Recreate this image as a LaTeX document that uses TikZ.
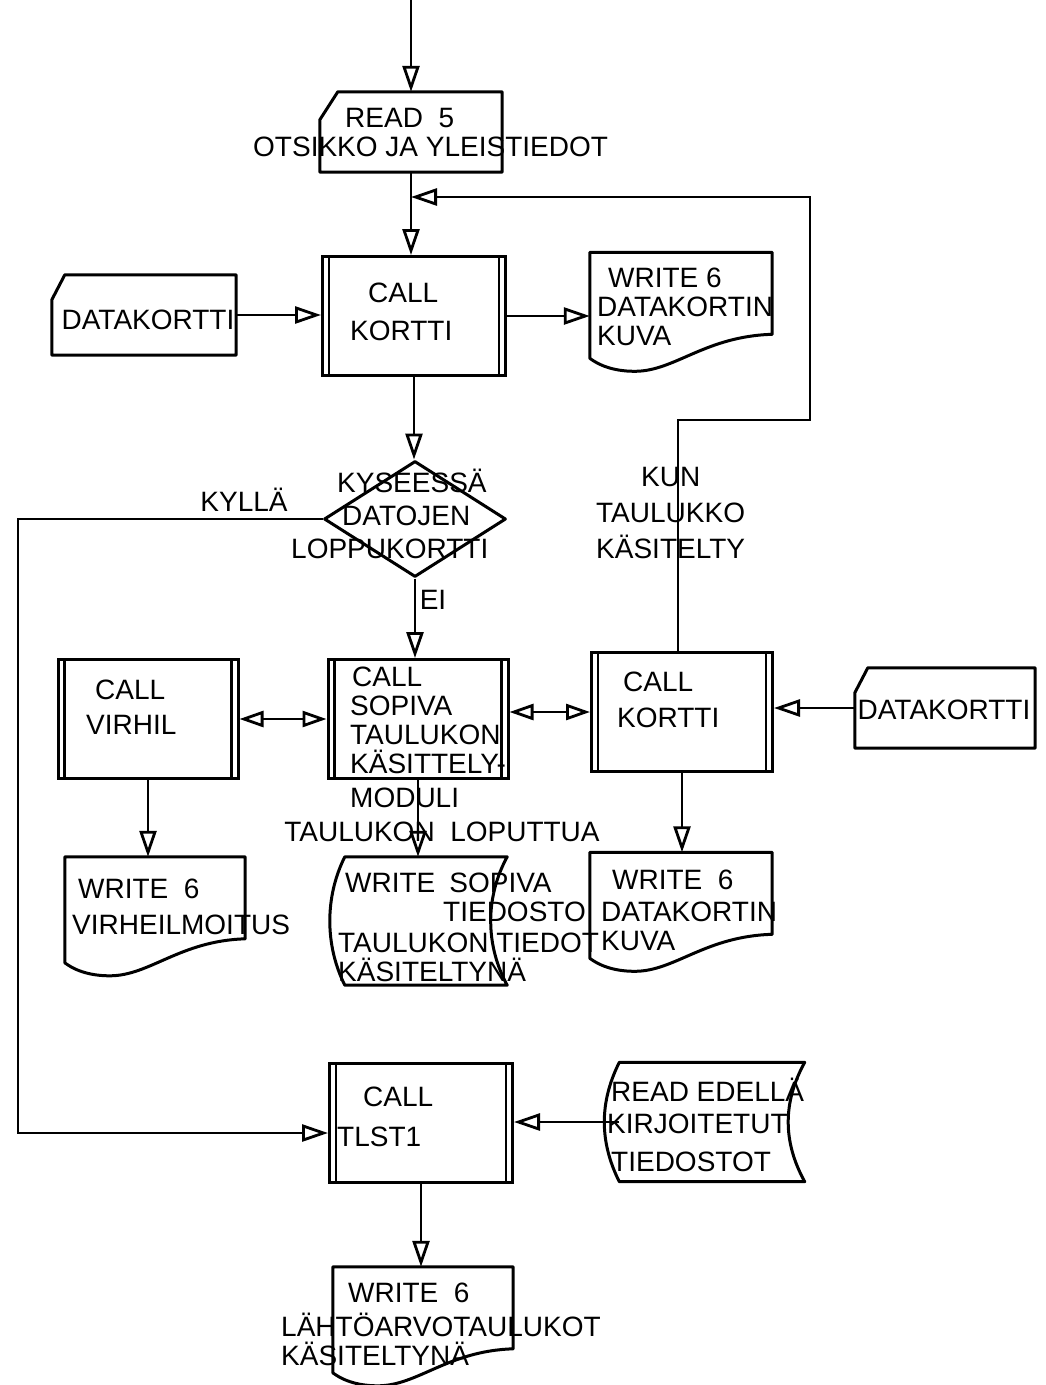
\documentclass[tikz,border=0pt]{standalone}
\usepackage{fontspec}
\setmainfont{Liberation Sans}
\usepackage{tikz}
\usetikzlibrary{arrows.meta, calc, shapes.geometric}

% outlines drawn round empty, named nodes
\newcommand{\cardoutline}[3]{%
  \draw[shapeline] ([xshift=#2pt]#1.north west) -- (#1.north east) -- (#1.south east)
    -- (#1.south west) -- ([yshift=-#3pt]#1.north west) -- cycle;}
\newcommand{\docoutline}[1]{%
  \draw[shapeline] (#1.north west) -- (#1.north east) -- ($(#1.north east)+(0,82)$)
    .. controls ($(#1.north west)+(115,84)$) and ($(#1.north west)+(85,119)$) .. ($(#1.north west)+(45,119)$)
    .. controls ($(#1.north west)+(22,119)$) and ($(#1.north west)+(8,112)$) .. ($(#1.north west)+(0,106)$) -- cycle;}
\newcommand{\storeoutline}[1]{%
  \draw[shapeline] (#1.north west) .. controls ($(#1.north west)+(-20,40)$) and ($(#1.south west)+(-20,-40)$) .. (#1.south west)
    -- (#1.south east) .. controls ($(#1.south east)+(-22,-40)$) and ($(#1.north east)+(-22,40)$) .. (#1.north east) -- cycle;}

\begin{document}
\begin{tikzpicture}[x=1pt, y=-1pt,
  shapeline/.style={line width=3pt, line join=round},
  flow/.style={line width=2.8pt, -{Triangle[open, length=26pt, width=17pt]}},
  twoway/.style={line width=2.8pt, {Triangle[open, length=24pt, width=16pt]}-{Triangle[open, length=24pt, width=16pt]}},
  shp/.style 2 args={minimum width=#1pt, minimum height=#2pt, inner sep=0pt},
  subr/.style={draw, line width=3pt, minimum width=183pt, minimum height=119pt, inner sep=0pt,
    append after command={([xshift=8pt]\tikzlastnode.north west) edge[draw, line width=2.4pt] ([xshift=8pt]\tikzlastnode.south west)
      ([xshift=-8pt]\tikzlastnode.north east) edge[draw, line width=2.4pt] ([xshift=-8pt]\tikzlastnode.south east)}},
  lbl/.style={font=\fontsize{28}{29}\selectfont, inner sep=0pt, align=left}]

  \useasboundingbox (0,0) rectangle (1045,1385);

  % top: read header card
  \coordinate (start) at (411,0);
  \node[shp={182}{80}] (read5) at (411,132) {};
  \cardoutline{read5}{18}{28}
  \node[lbl, anchor=west] (tread5) at (253,132) {\hspace*{92pt}READ\ \ 5\\OTSIKKO\ JA\ YLEISTIEDOT};

  \coordinate (merge) at (411,197);
  \coordinate (turn) at (810,420);

  % first card read
  \node[shp={184}{80}] (card1) at (144,315) {};
  \cardoutline{card1}{13}{25}
  \node[lbl] (tcard1) at (148,320) {DATAKORTTI};

  \node[subr] (kortti1) at (414,316) {};
  \node[lbl, anchor=west] (tkortti1) at (350,312) {\hspace*{18pt}CALL\\[9pt]KORTTI};

  \node[shp={182}{119}] (kuva1) at (681,312) {};
  \docoutline{kuva1}
  \node[lbl, anchor=west] (tkuva1) at (597,307) {\hspace*{11pt}WRITE 6\\DATAKORTIN\\KUVA};

  % decision
  \node[diamond, draw, shapeline, minimum width=182pt, minimum height=116pt, inner sep=0pt] (kysymys) at (415,519) {};
  \node[lbl, anchor=west] (tkysymys) at (291,514) {\hspace*{46pt}KYSEESSÄ\\[4pt]\hspace*{51pt}DATOJEN\\[4pt]LOPPUKORTTI};
  \node[lbl] (kylla) at (244,500) {KYLLÄ};
  \node[lbl] (ei) at (433,600) {EI};
  \node[lbl, anchor=west] (tkun) at (596,513) {\hspace*{45pt}KUN\\[7pt]TAULUKKO\\[7pt]KÄSITELTY};

  % middle row
  \node[subr, minimum width=180pt] (virhil) at (148,719) {};
  \node[lbl, anchor=west] (tvirhil) at (86,707) {\hspace*{9pt}CALL\\[6pt]VIRHIL};

  \node[subr, minimum width=180pt] (sopiva) at (418,719) {};
  \node[lbl, anchor=west] (tsopiva) at (350,737) {\hspace*{2pt}CALL\\SOPIVA\\TAULUKON\\KÄSITTELY-\\[5pt]MODULI};

  \node[subr, minimum width=181pt] (kortti2) at (682,712) {};
  \node[lbl, anchor=west] (tkortti2) at (617,700) {\hspace*{6pt}CALL\\[7pt]KORTTI};

  \node[shp={180}{80}] (card2) at (945,708) {};
  \cardoutline{card2}{13}{25}
  \node[lbl] (tcard2) at (944,710) {DATAKORTTI};

  % outputs of middle row
  \node[shp={180}{118}] (virhe) at (155,916) {};
  \docoutline{virhe}
  \node[lbl, anchor=west] (tvirhe) at (72,907) {\hspace*{6pt}WRITE\ \ 6\\[7pt]VIRHEILMOITUS};

  \node[lbl] (loputtua) at (442,832) {TAULUKON\ \ LOPUTTUA};
  \node[shp={162}{128}] (tiedosto) at (426,921) {};
  \storeoutline{tiedosto}
  \node[lbl, anchor=west] (ttiedosto) at (338,927) {\hspace*{7pt}WRITE\hspace*{14pt}SOPIVA\\\hspace*{105pt}TIEDOSTO\\[2pt]TAULUKON TIEDOT\\KÄSITELTYNÄ};

  \node[shp={182}{117}] (kuva2) at (681,911) {};
  \docoutline{kuva2}
  \node[lbl, anchor=west] (tkuva2) at (601,910) {\hspace*{11pt}WRITE\ \ 6\\[3pt]DATAKORTIN\\KUVA};

  % bottom
  \node[subr] (tlst1) at (421,1123) {};
  \node[lbl, anchor=west] (ttlst1) at (337,1117) {\hspace*{26pt}CALL\\[11pt]TLST1};

  \node[shp={185}{119}] (edella) at (712,1122) {};
  \storeoutline{edella}
  \node[lbl, anchor=west] (tedella) at (607,1125) {\hspace*{4pt}READ EDELLÄ\\[3pt]KIRJOITETUT\\[9pt]\hspace*{4pt}TIEDOSTOT};

  \node[shp={180}{118}] (lahto) at (423,1326) {};
  \docoutline{lahto}
  \node[lbl, anchor=west] (tlahto) at (281,1324) {\hspace*{67pt}WRITE\ \ 6\\[5pt]LÄHTÖARVOTAULUKOT\\KÄSITELTYNÄ};

  % connectors
  \draw[flow] (start) -- (read5.north);
  \draw[flow] (read5.south) -- (read5.south |- kortti1.north);
  \draw[flow] (card1.east) -- (card1.east -| kortti1.west);
  \draw[flow] (kortti1.east) -- (kortti1.east -| kuva1.west);
  \draw[flow] (kortti1.south) -- (kortti1.south |- kysymys.north);
  \draw[flow] (kysymys.south) -- (kysymys.south |- sopiva.north);
  \draw[flow] ([xshift=-4pt]kortti2.north) |- (turn) |- (merge);
  \draw[twoway] (virhil.east) -- (virhil.east -| sopiva.west);
  \draw[twoway] (kortti2.west -| sopiva.east) -- (kortti2.west);
  \draw[flow] (card2.west) -- (card2.west -| kortti2.east);
  \draw[flow] (virhil.south) -- (virhil.south |- virhe.north);
  \draw[flow] (sopiva.south) -- (sopiva.south |- tiedosto.north);
  \draw[flow] (kortti2.south) -- (kortti2.south |- kuva2.north);
  \draw[flow] (kysymys.west) -- (18,519) |- ([yshift=-10pt]tlst1.west);
  \draw[flow] (edella.west) -- (edella.west -| tlst1.east);
  \draw[flow] (tlst1.south) -- (tlst1.south |- lahto.north);

\end{tikzpicture}
\end{document}
